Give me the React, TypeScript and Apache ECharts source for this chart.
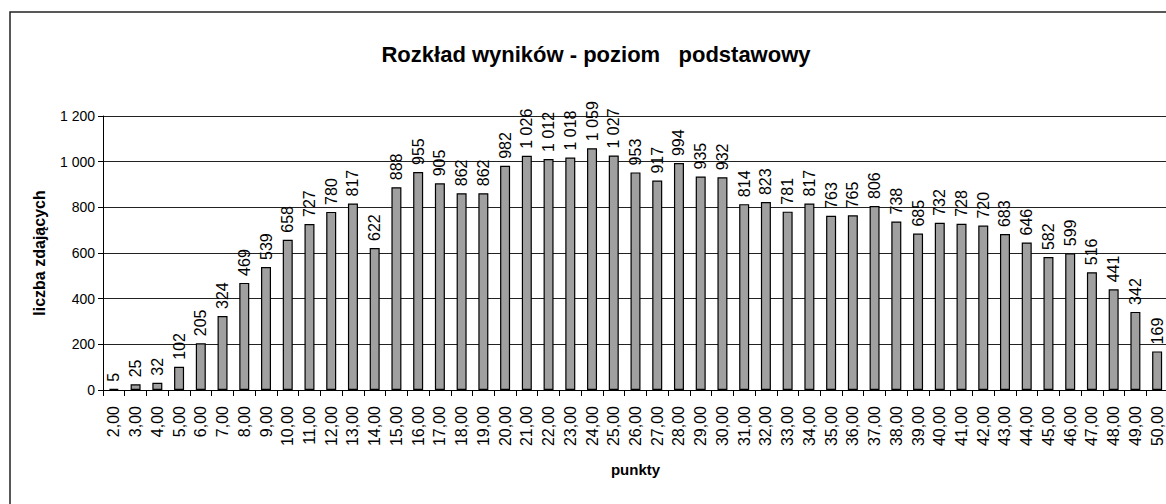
import React, { useEffect, useRef } from "react";
import * as echarts from "echarts";

const categories: string[] = [
  "2,00","3,00","4,00","5,00","6,00","7,00","8,00","9,00","10,00","11,00",
  "12,00","13,00","14,00","15,00","16,00","17,00","18,00","19,00","20,00","21,00",
  "22,00","23,00","24,00","25,00","26,00","27,00","28,00","29,00","30,00","31,00",
  "32,00","33,00","34,00","35,00","36,00","37,00","38,00","39,00","40,00","41,00",
  "42,00","43,00","44,00","45,00","46,00","47,00","48,00","49,00","50,00",
];

const counts: number[] = [
  5, 25, 32, 102, 205, 324, 469, 539, 658, 727,
  780, 817, 622, 888, 955, 905, 862, 862, 982, 1026,
  1012, 1018, 1059, 1027, 953, 917, 994, 935, 932, 814,
  823, 781, 817, 763, 765, 806, 738, 685, 732, 728,
  720, 683, 646, 582, 599, 516, 441, 342, 169,
];

const yTicks = { min: 0, max: 1200, interval: 200 };

const titleText = "Rozkład wyników - poziom   podstawowy";
const yName = "liczba zdających";
const xName = "punkty";

const FONT = "'Liberation Sans', Arial, sans-serif";

const fmt = (v: number): string => {
  const s = String(Math.round(v));
  return s.replace(/\B(?=(\d{3})+(?!\d))/g, " ");
};

export default function App() {
  const ref = useRef<HTMLDivElement>(null);

  useEffect(() => {
    if (!ref.current) return;
    const chart = echarts.init(ref.current, undefined, { renderer: "svg" });
    chart.setOption({
      animation: false,
      backgroundColor: "#ffffff",
      textStyle: { fontFamily: FONT },
      title: {
        text: titleText,
        left: 591,
        textAlign: "center",
        top: 38,
        textStyle: { fontFamily: FONT, fontSize: 22, fontWeight: "bold", color: "#000" },
      },
      graphic: [
        {
          type: "polyline",
          silent: true,
          z: -1,
          shape: { points: [[10, 520], [10, 12], [1220, 12]] },
          style: { fill: "none", stroke: "#222", lineWidth: 1.5 },
        },
      ],
      grid: { left: 103, top: 116, bottom: 114, right: 22, containLabel: false },
      xAxis: {
        type: "category",
        data: categories,
        boundaryGap: true,
        name: xName,
        nameLocation: "middle",
        nameGap: 72,
        nameTextStyle: { fontFamily: FONT, fontSize: 15, fontWeight: "bold", color: "#000" },
        axisLine: { show: true, lineStyle: { color: "#000", width: 1 } },
        axisTick: { show: true, length: 6, alignWithLabel: false, lineStyle: { color: "#000" } },
        axisLabel: {
          interval: 0,
          rotate: 90,
          fontSize: 16,
          color: "#000",
          margin: 16,
          fontFamily: FONT,
        },
        splitLine: { show: false },
      },
      yAxis: {
        type: "value",
        min: yTicks.min,
        max: yTicks.max,
        interval: yTicks.interval,
        name: yName,
        nameLocation: "middle",
        nameGap: 56,
        nameRotate: 90,
        nameTextStyle: { fontFamily: FONT, fontSize: 16, fontWeight: "bold", color: "#000" },
        axisLine: { show: true, lineStyle: { color: "#000", width: 1 } },
        axisTick: { show: true, length: 5, lineStyle: { color: "#000" } },
        axisLabel: { fontSize: 14, color: "#000", margin: 8, fontFamily: FONT, formatter: (v: number) => fmt(v) },
        splitLine: { show: true, lineStyle: { color: "#222", width: 1 } },
      },
      series: [
        {
          type: "bar",
          data: counts,
          barWidth: 10,
          itemStyle: { color: "#a0a0a0", borderColor: "#000", borderWidth: 1.2 },
          label: {
            show: true,
            position: "top",
            rotate: 90,
            align: "left",
            verticalAlign: "middle",
            distance: 7,
            fontSize: 16,
            color: "#000",
            fontFamily: FONT,
            formatter: (p: any) => fmt(p.value),
          },
        },
      ],
    });
    return () => chart.dispose();
  }, []);

  return (
    <div
      style={{ position: "absolute", left: 0, top: 0, width: 1166, height: 504, overflow: "hidden" }}
    >
      <div ref={ref} style={{ width: 1190, height: 504 }} />
    </div>
  );
}
